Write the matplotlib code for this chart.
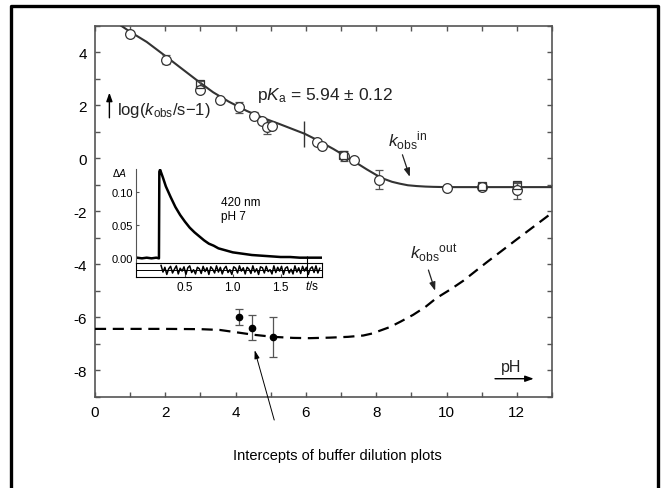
import matplotlib
matplotlib.use("Agg")
from matplotlib import pyplot as plt
from matplotlib.lines import Line2D
from matplotlib.ticker import MultipleLocator

plt.rcParams['font.family'] = ['Liberation Sans', 'DejaVu Sans']
plt.rcParams['mathtext.fontset'] = 'custom'
plt.rcParams['mathtext.rm'] = 'Liberation Sans'
plt.rcParams['mathtext.it'] = 'Liberation Sans:italic'
plt.rcParams['axes.unicode_minus'] = False

# k_obs^in : fitted curve and measured points
in_curve_ph = [0.7, 1.0, 1.47, 2.0, 2.42, 3.0, 3.36, 3.8, 4.31, 4.8, 5.25, 5.6, 5.97,
               6.3, 6.78, 7.25, 7.73, 8.0, 8.2, 8.45, 8.67, 8.9, 9.15, 9.4, 9.62, 10.0, 13.0]
in_curve_log = [5.05, 4.78, 4.4, 3.87, 3.44, 2.85, 2.5, 2.15, 1.8, 1.52, 1.3, 1.12, 0.93,
                0.71, 0.36, -0.01, -0.41, -0.62, -0.76, -0.88, -0.95, -1.01, -1.04, -1.06, -1.07, -1.08, -1.08]

circle_ph = [1.0, 2.02, 3.0, 3.55, 4.1, 4.52, 4.74, 4.88, 5.04, 6.32, 6.47, 7.09, 7.36, 8.08, 10.0, 11.0, 12.0]
circle_log = [4.69, 3.72, 2.6, 2.2, 1.93, 1.62, 1.43, 1.18, 1.22, 0.62, 0.49, 0.1, -0.05, -0.81, -1.1, -1.08, -1.2]
circle_err = [0.1, 0.17, 0.1, 0.1, 0.2, 0.12, 0.1, 0.25, 0.0, 0.0, 0.0, 0.18, 0.0, 0.36, 0.0, 0.12, 0.33]

square_ph = [3.0, 7.05, 11.0, 12.0]
square_log = [2.82, 0.12, -1.05, -1.01]
square_err = [0.1, 0.1, 0.1, 0.1]

# k_obs^out : dashed curve and buffer-dilution intercepts
out_curve_ph = [0, 1, 2, 3, 3.55, 4.03, 4.5, 5.07, 5.64, 6.1, 6.68, 7.2, 7.63, 7.9, 8.1,
                8.39, 8.7, 9.05, 9.4, 9.71, 10.1, 10.47, 11.14, 12, 13]
out_curve_log = [-6.43, -6.43, -6.43, -6.44, -6.47, -6.56, -6.65, -6.73, -6.77, -6.78, -6.76,
                 -6.73, -6.68, -6.6, -6.5, -6.36, -6.15, -5.9, -5.6, -5.27, -4.95, -4.62, -3.92, -3.05, -2.05]

dil_ph = [4.09, 4.48, 5.05]
dil_log = [-5.99, -6.38, -6.75]
dil_err = [0.3, 0.48, 0.75]

pka = 5.94
pka_mark = (0.45, 1.43)

# inset: absorbance trace at 420 nm, pH 7
trace_t = [0.0, 0.05, 0.1, 0.15, 0.2, 0.228, 0.232, 0.24, 0.27, 0.3, 0.35, 0.4, 0.45, 0.5, 0.55,
           0.6, 0.65, 0.7, 0.75, 0.8, 0.85, 0.9, 0.95, 1.0, 1.1, 1.2, 1.3, 1.4, 1.5, 1.6, 1.7, 1.8, 1.93]
trace_dA = [0.001, 0.0, 0.001, 0.0, 0.001, 0.0, 0.13, 0.133, 0.121, 0.108, 0.092, 0.077, 0.065, 0.055,
            0.046, 0.039, 0.033, 0.027, 0.022, 0.019, 0.015, 0.013, 0.011, 0.009, 0.007, 0.005,
            0.004, 0.003, 0.002, 0.002, 0.001, 0.001, 0.001]

resid_t = [0.25, 0.27, 0.29, 0.31, 0.33, 0.35, 0.37, 0.39, 0.41, 0.43, 0.45, 0.47, 0.49, 0.51,
           0.53, 0.55, 0.57, 0.59, 0.61, 0.63, 0.65, 0.67, 0.69, 0.71, 0.73, 0.75, 0.77, 0.79,
           0.81, 0.83, 0.85, 0.87, 0.89, 0.91, 0.93, 0.95, 0.97, 0.99, 1.01, 1.03, 1.05, 1.07,
           1.09, 1.11, 1.13, 1.15, 1.17, 1.19, 1.21, 1.23, 1.25, 1.27, 1.29, 1.31, 1.33, 1.35,
           1.37, 1.39, 1.41, 1.43, 1.45, 1.47, 1.49, 1.51, 1.53, 1.55, 1.57, 1.59, 1.61, 1.63,
           1.65, 1.67, 1.69, 1.71, 1.73, 1.75, 1.77, 1.79, 1.81, 1.83, 1.85, 1.87, 1.89, 1.91]
resid_v = [1.0, -0.4, 0.6, -0.9, 0.3, 0.8, -0.6, 0.2, 0.9, -0.8, 0.4, -0.2, 0.7, -0.9, 0.5,
           0.9, -0.5, 0.1, -0.8, 0.6, 0.3, -0.7, 0.8, -0.3, 0.5, -0.9, 0.7, 0.2, -0.6, 0.9,
           -0.4, 0.6, -0.8, 0.3, 0.8, -0.5, 0.1, -0.9, 0.7, 0.4, -0.6, 0.9, -0.2, 0.5, -0.8,
           0.6, 0.2, -0.7, 0.9, -0.4, 0.3, -0.9, 0.7, 0.5, -0.6, 0.8, -0.3, 0.1, -0.8, 0.9,
           -0.5, 0.6, -0.2, 0.8, -0.9, 0.4, 0.7, -0.6, 0.2, -0.8, 0.9, -0.4, 0.5, -0.7, 0.8,
           -0.2, 0.6, -0.9, 0.3, 0.7, -0.5, 0.9, -0.6, 0.4]

gray = '#555555'
line_col = '#333333'

fig = plt.figure(figsize=(6.67, 4.89), dpi=100)
ax = fig.add_axes([0.1424, 0.1861, 0.6852, 0.7587])

ax.plot(in_curve_ph, in_curve_log, color=line_col, lw=1.5, zorder=3)
ax.errorbar(circle_ph, circle_log, yerr=circle_err, fmt='o', ms=7, mfc='white', mec=line_col,
            mew=0.9, ecolor=gray, elinewidth=0.9, capsize=3, capthick=0.9, zorder=4)
ax.errorbar(square_ph, square_log, yerr=square_err, fmt='s', ms=5.5, mfc='none', mec=line_col,
            mew=0.9, ecolor=gray, elinewidth=0.9, capsize=3, capthick=0.9, zorder=4)
ax.vlines(pka, *pka_mark, color=line_col, lw=1.0, zorder=3)

ax.plot(out_curve_ph, out_curve_log, color='black', lw=1.6, ls=(0, (5, 3)), zorder=3)
ax.errorbar(dil_ph, dil_log, yerr=dil_err, fmt='o', ms=4.5, color='black', ecolor=gray,
            elinewidth=0.9, capsize=3, capthick=0.9, zorder=4)

ax.set_xlim(0, 13)
ax.set_ylim(-9, 5)
ax.xaxis.set_major_locator(MultipleLocator(2))
ax.xaxis.set_minor_locator(MultipleLocator(1))
ax.yaxis.set_major_locator(MultipleLocator(2))
ax.yaxis.set_minor_locator(MultipleLocator(1))
ax.tick_params(which='both', direction='in', top=True, right=True, length=3.5, width=1,
               color=gray, labelsize=11, pad=6)
for sp in ax.spines.values():
    sp.set_color(gray)
    sp.set_linewidth(1.2)

ax.text(4.6, 2.43, r'p$K_{\mathrm{a}}$ = 5.94 ± 0.12', fontsize=12.5, va='center', color='#222222')
ax.text(0.62, 1.84, r'log($k_{\mathrm{obs}}$/s$-$1)', fontsize=12, va='center', color='#222222')
ax.annotate('', xy=(0.41, 2.59), xytext=(0.41, 1.43),
            arrowprops=dict(arrowstyle='-|>,head_length=0.5,head_width=0.18', color='black', lw=1))
ax.text(8.33, 0.7, r'$k_{\mathrm{obs}}{}^{\mathrm{in}}$', fontsize=12.5, va='center', color='#222222')
ax.annotate('', xy=(8.98, -0.79), xytext=(8.72, 0.24),
            arrowprops=dict(arrowstyle='-|>,head_length=0.5,head_width=0.18', color='#222222', lw=0.9))
ax.text(8.96, -3.55, r'$k_{\mathrm{obs}}{}^{\mathrm{out}}$', fontsize=12.5, va='center', color='#222222')
ax.annotate('', xy=(9.7, -5.09), xytext=(9.46, -4.11),
            arrowprops=dict(arrowstyle='-|>,head_length=0.5,head_width=0.18', color='#222222', lw=0.9))
ax.text(11.83, -7.84, 'pH', fontsize=11.5, ha='center', va='center', color='#222222')
ax.annotate('', xy=(12.56, -8.31), xytext=(11.3, -8.31),
            arrowprops=dict(arrowstyle='-|>,head_length=0.5,head_width=0.18', color='black', lw=1))
ax.annotate('', xy=(4.52, -7.13), xytext=(5.12, -9.97), annotation_clip=False,
            arrowprops=dict(arrowstyle='-|>,head_length=0.5,head_width=0.15', color='black', lw=0.7))

fig.text(337 / 667, 1 - 456 / 489, 'Intercepts of buffer dilution plots', fontsize=10.5,
         ha='center', va='center')

# inset trace
ax_tr = fig.add_axes([0.2039, 0.4601, 0.2784, 0.1922], facecolor='none')
ax_tr.plot(trace_t, trace_dA, color='black', lw=1.8)
ax_tr.set_xlim(-0.012, 1.93)
ax_tr.set_ylim(-0.007, 0.134)
for name in ('top', 'right', 'bottom'):
    ax_tr.spines[name].set_visible(False)
ax_tr.spines['left'].set_color(gray)
ax_tr.set_xticks([])
ax_tr.set_yticks([0.0, 0.05, 0.10])
ax_tr.set_yticklabels(['0.00', '0.05', '0.10'])
ax_tr.tick_params(axis='y', direction='in', length=2.5, color=gray, labelsize=8, pad=2)
ax_tr.vlines(1.78, -0.007, 0.004, color='black', lw=0.8)
ax_tr.text(0.875, 0.084, '420 nm', fontsize=8.5, va='center')
ax_tr.text(0.875, 0.063, 'pH 7', fontsize=8.5, va='center')
fig.text(120 / 667, 1 - 173 / 489, r'$\Delta A$', fontsize=7.5, ha='center', va='center')

# inset residuals
ax_rs = fig.add_axes([0.2039, 0.4309, 0.2784, 0.0292], facecolor='none')
ax_rs.plot(resid_t, resid_v, color='black', lw=1.1)
ax_rs.axhline(0, color='black', lw=0.7)
ax_rs.axvline(1.78, color='black', lw=0.8)
ax_rs.set_xlim(-0.012, 1.93)
ax_rs.set_ylim(-1.5, 1.5)
ax_rs.set_yticks([])
ax_rs.set_xticks([0.5, 1.0, 1.5])
ax_rs.set_xticklabels(['0.5', '1.0', '1.5'])
ax_rs.tick_params(axis='x', direction='in', length=2, color=gray, labelsize=8.5, pad=3)
for sp in ax_rs.spines.values():
    sp.set_color('black')
    sp.set_linewidth(0.8)
fig.text(312 / 667, 1 - 287 / 489, r'$t$/s', fontsize=8.5, ha='center', va='center')

# outer frame (open at the bottom)
x0, x1, y1 = 10.5 / 667, 658 / 667, 1 - 7 / 489
fig.add_artist(Line2D([x0, x0, x1, x1], [0, y1, y1, 0], transform=fig.transFigure,
                      color='black', lw=2.4))

fig.savefig('out.png', dpi=100)
